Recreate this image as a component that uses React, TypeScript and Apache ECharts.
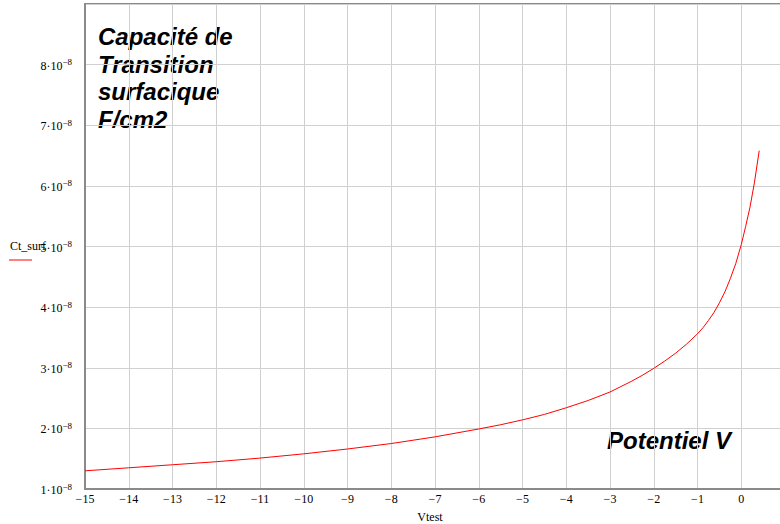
import React, { useEffect, useRef } from "react";
import * as echarts from "echarts";

// Vtest values (V)
const vtest = [
  -15, -14, -13, -12, -11, -10, -9, -8, -7, -6, -5.5, -5, -4.5, -4, -3.5, -3,
  -2.75, -2.5, -2.25, -2, -1.75, -1.5, -1.25, -1, -0.875, -0.75, -0.625, -0.5,
  -0.375, -0.25, -0.125, 0, 0.1, 0.2, 0.3, 0.41,
];
// Ct_surf values, in units of 1e-8 F/cm2
const ctSurfE8 = [
  1.3, 1.35, 1.4, 1.45, 1.51, 1.58, 1.66, 1.75, 1.86, 1.99, 2.06, 2.14, 2.23,
  2.34, 2.46, 2.6, 2.69, 2.78, 2.88, 2.99, 3.11, 3.24, 3.39, 3.56, 3.66, 3.78,
  3.91, 4.07, 4.25, 4.47, 4.72, 5.03, 5.33, 5.65, 6.05, 6.58,
];
const yTicks = [1, 2, 3, 4, 5, 6, 7, 8];

export default function App() {
  const ref = useRef<HTMLDivElement>(null);
  useEffect(() => {
    document.body.style.margin = "0";
    document.body.style.overflow = "hidden";
    const chart = echarts.init(ref.current!, null, { renderer: "svg" });
    const serif = "'Liberation Serif', 'Times New Roman', serif";
    const sans = "'Liberation Sans', Arial, sans-serif";
    chart.setOption({
      animation: false,
      backgroundColor: "#ffffff",
      grid: {
        left: 85,
        top: 4,
        right: -5,
        bottom: 35,
        show: true,
        borderColor: "#8a8a8a",
        borderWidth: 2,
        outerBoundsMode: "none",
      },
      xAxis: {
        type: "value",
        min: -15,
        max: 1,
        interval: 1,
        name: "Vtest",
        nameLocation: "middle",
        nameGap: 22,
        nameTextStyle: { fontFamily: serif, fontSize: 12, color: "#000", padding: [0, 10, 0, 0] },
        axisLine: { show: true, onZero: false, lineStyle: { color: "#8a8a8a", width: 2 } },
        axisTick: { show: false },
        axisLabel: {
          fontFamily: serif,
          fontSize: 12,
          color: "#000",
          margin: 4,
          formatter: (v: number) => (v >= 1 ? "" : v < 0 ? "\u2212" + String(-v) : String(v)),
        },
        splitLine: { show: true, lineStyle: { color: "#d0d0d0", width: 1 } },
      },
      yAxis: {
        type: "value",
        min: 1,
        max: 9,
        interval: 1,
        axisLine: { show: true, onZero: false, lineStyle: { color: "#8a8a8a", width: 2 } },
        axisTick: { show: false },
        axisLabel: {
          margin: 13,
          formatter: (v: number) => {
            const n = Math.round(v);
            return yTicks.includes(n) ? `{a|${n}\u00b710}{b|\u22128}` : "";
          },
          rich: {
            a: { fontFamily: serif, fontSize: 12, color: "#000", lineHeight: 14, verticalAlign: "bottom", padding: [4, 0, 0, 0] },
            b: { fontFamily: serif, fontSize: 9, color: "#000", lineHeight: 9, verticalAlign: "top" },
          },
        },
        splitLine: { show: true, lineStyle: { color: "#d0d0d0", width: 1 } },
      },
      series: [
        {
          name: "Ct_surf",
          type: "line",
          showSymbol: false,
          smooth: false,
          data: vtest.map((v, i) => [v, ctSurfE8[i]]),
          lineStyle: { color: "#ff0000", width: 1 },
        },
      ],
      graphic: [
        {
          type: "text",
          left: 98,
          top: 23,
          style: {
            text: "Capacité de\nTransition\nsurfacique\nF/cm2",
            font: `italic bold 24px ${sans}`,
            lineHeight: 27.5,
            fill: "#000",
            stroke: "none",
            lineWidth: 0,
          },
        },
        {
          type: "text",
          left: 607,
          top: 428,
          style: {
            text: "Potentiel V",
            font: `italic bold 24px ${sans}`,
            fill: "#000",
            stroke: "none",
            lineWidth: 0,
          },
        },
        {
          type: "text",
          left: 10,
          top: 240,
          style: { text: "Ct_surf", font: `12px ${serif}`, fill: "#000", stroke: "none", lineWidth: 0 },
        },
        {
          type: "line",
          shape: { x1: 9, y1: 260, x2: 32, y2: 260 },
          style: { stroke: "#ff0000", lineWidth: 1 },
        },
      ],
    });
    return () => chart.dispose();
  }, []);
  return <div ref={ref} style={{ width: 780, height: 524 }} />;
}
